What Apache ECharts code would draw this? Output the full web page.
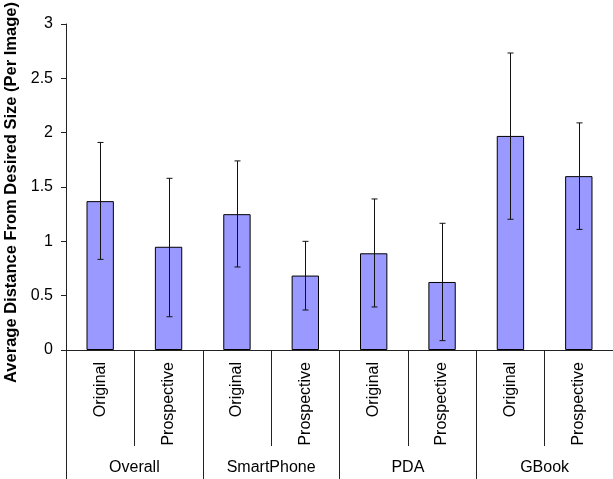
<!DOCTYPE html>
<html>
<head>
<meta charset="utf-8">
<script src="https://cdn.jsdelivr.net/npm/echarts@6/dist/echarts.min.js"></script>
<style>html,body{margin:0;padding:0;background:#fff}#c{width:613px;height:479px}</style>
</head>
<body>
<div id="c"></div>
<script>
const groups = ['Overall', 'SmartPhone', 'PDA', 'GBook'];
const subLabels = ['Original', 'Prospective'];
const means = [1.37, 0.95, 1.25, 0.685, 0.89, 0.626, 1.97, 1.60];
const errHigh = [1.91, 1.58, 1.74, 1.0, 1.39, 1.166, 2.733, 2.09];
const errLow = [0.834, 0.306, 0.764, 0.368, 0.396, 0.086, 1.203, 1.11];
const yTicks = [0, 0.5, 1, 1.5, 2, 2.5, 3];

const cats = [];
groups.forEach(g => subLabels.forEach(s => cats.push(s)));
const catIdx = cats.map((_, i) => i);
const errData = catIdx.map(i => [i, errLow[i], errHigh[i]]);

const chart = echarts.init(document.getElementById('c'), null, {renderer: 'canvas'});
const font = 'Arial, "Liberation Sans", sans-serif';
chart.setOption({
  animation: false,
  backgroundColor: '#fff',
  grid: {left: 66, right: 0, top: 24, bottom: 129, containLabel: false, outerBoundsMode: 'none'},
  xAxis: [{
    type: 'category',
    data: catIdx.map(String),
    position: 'bottom',
    axisLine: {show: true, lineStyle: {color: '#222', width: 1}},
    axisTick: {show: true, interval: 0, length: 96, lineStyle: {color: '#222'}},
    axisLabel: {
      interval: 0, rotate: 90, margin: 12,
      formatter: v => cats[+v],
      fontFamily: font, fontSize: 16, color: '#000'
    }
  }, {
    type: 'category',
    data: groups,
    position: 'bottom',
    axisLine: {show: false},
    axisTick: {show: true, interval: 0, length: 130, lineStyle: {color: '#222'}},
    axisLabel: {interval: 0, margin: 110, fontFamily: font, fontSize: 16, color: '#000'}
  }],
  yAxis: {
    type: 'value',
    min: yTicks[0], max: yTicks[yTicks.length - 1], interval: 0.5,
    name: 'Average Distance From Desired Size (Per Image)',
    nameLocation: 'middle',
    nameGap: 44,
    nameRotate: 90,
    nameTextStyle: {fontFamily: font, fontSize: 16.5, fontWeight: 'bold', color: '#000', padding: [0, 11, 0, 0]},
    axisLine: {show: true, lineStyle: {color: '#222', width: 1}},
    axisTick: {show: true, length: 5, lineStyle: {color: '#222'}},
    axisLabel: {margin: 13, fontFamily: font, fontSize: 16, color: '#000'},
    splitLine: {show: false}
  },
  series: [{
    type: 'bar',
    xAxisIndex: 0,
    data: means,
    barWidth: '40%',
    itemStyle: {color: '#9999ff', borderColor: '#000', borderWidth: 1}
  }, {
    type: 'custom',
    xAxisIndex: 0,
    data: errData,
    z: 10,
    renderItem: function (params, api) {
      const x = api.value(0);
      const lo = api.coord([x, api.value(1)]);
      const hi = api.coord([x, api.value(2)]);
      const cx = Math.round(lo[0]) + 0.5;
      const w = 3;
      const st = {stroke: '#111', lineWidth: 1};
      return {
        type: 'group',
        children: [
          {type: 'line', shape: {x1: cx, y1: hi[1], x2: cx, y2: lo[1]}, style: st},
          {type: 'line', shape: {x1: cx - w, y1: hi[1], x2: cx + w, y2: hi[1]}, style: st},
          {type: 'line', shape: {x1: cx - w, y1: lo[1], x2: cx + w, y2: lo[1]}, style: st}
        ]
      };
    }
  }]
});
</script>
</body>
</html>
